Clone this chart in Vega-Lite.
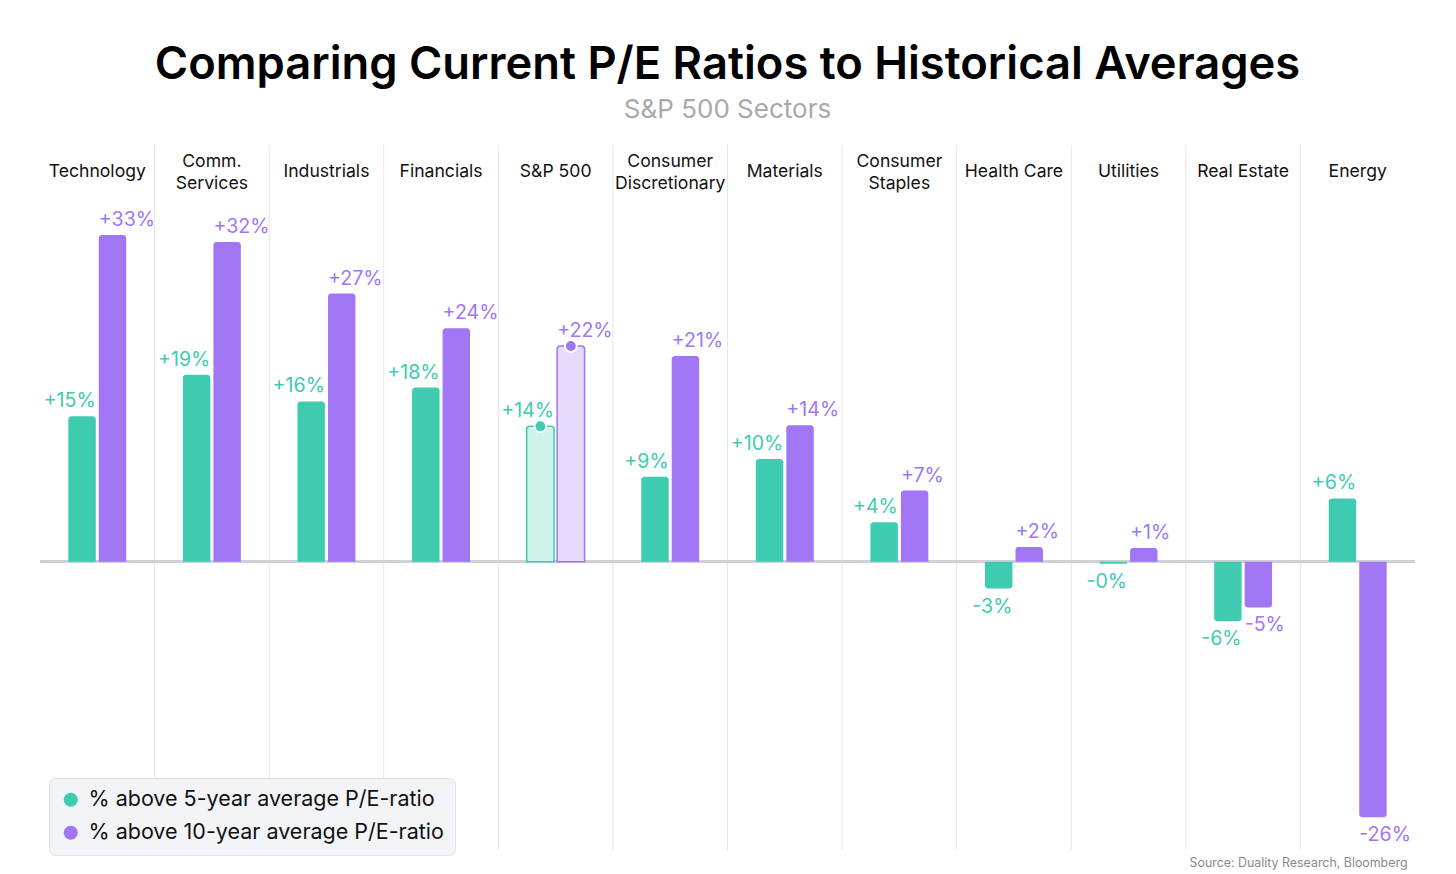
{
  "$schema": "https://vega.github.io/schema/vega-lite/v6.json",
  "width": 1375,
  "height": 705,
  "autosize": {"type": "none"},
  "padding": {"left": 40, "top": 145, "right": 41, "bottom": 24},
  "background": "white",
  "config": {"view": {"stroke": null}, "font": "Inter"},
  "title": {
    "text": "Comparing Current P/E Ratios to Historical Averages",
    "subtitle": "S&P 500 Sectors",
    "font": "Inter",
    "fontSize": 45.3,
    "fontWeight": 600,
    "color": "#000000",
    "subtitleFont": "Inter",
    "subtitleFontSize": 26,
    "subtitleColor": "#a9a9a9",
    "anchor": "middle",
    "offset": 22,
    "subtitlePadding": 8
  },
  "datasets": {
    "sectors": [
      {"sector": "Technology", "label": "Technology", "lines": 1},
      {"sector": "Comm. Services", "label": "Comm.\nServices", "lines": 2},
      {"sector": "Industrials", "label": "Industrials", "lines": 1},
      {"sector": "Financials", "label": "Financials", "lines": 1},
      {"sector": "S&P 500", "label": "S&P 500", "lines": 1},
      {"sector": "Consumer Discretionary", "label": "Consumer\nDiscretionary", "lines": 2},
      {"sector": "Materials", "label": "Materials", "lines": 1},
      {"sector": "Consumer Staples", "label": "Consumer\nStaples", "lines": 2},
      {"sector": "Health Care", "label": "Health Care", "lines": 1},
      {"sector": "Utilities", "label": "Utilities", "lines": 1},
      {"sector": "Real Estate", "label": "Real Estate", "lines": 1},
      {"sector": "Energy", "label": "Energy", "lines": 1}
    ],
    "bars": [
      {"sector": "Technology", "series": "% above 5-year average P/E-ratio", "value": 14.7, "lab": "+15%"},
      {"sector": "Technology", "series": "% above 10-year average P/E-ratio", "value": 33.0, "lab": "+33%"},
      {"sector": "Comm. Services", "series": "% above 5-year average P/E-ratio", "value": 18.9, "lab": "+19%"},
      {"sector": "Comm. Services", "series": "% above 10-year average P/E-ratio", "value": 32.3, "lab": "+32%"},
      {"sector": "Industrials", "series": "% above 5-year average P/E-ratio", "value": 16.2, "lab": "+16%"},
      {"sector": "Industrials", "series": "% above 10-year average P/E-ratio", "value": 27.1, "lab": "+27%"},
      {"sector": "Financials", "series": "% above 5-year average P/E-ratio", "value": 17.6, "lab": "+18%"},
      {"sector": "Financials", "series": "% above 10-year average P/E-ratio", "value": 23.6, "lab": "+24%"},
      {"sector": "S&P 500", "series": "% above 5-year average P/E-ratio", "value": 13.7, "lab": "+14%"},
      {"sector": "S&P 500", "series": "% above 10-year average P/E-ratio", "value": 21.8, "lab": "+22%"},
      {"sector": "Consumer Discretionary", "series": "% above 5-year average P/E-ratio", "value": 8.6, "lab": "+9%"},
      {"sector": "Consumer Discretionary", "series": "% above 10-year average P/E-ratio", "value": 20.8, "lab": "+21%"},
      {"sector": "Materials", "series": "% above 5-year average P/E-ratio", "value": 10.4, "lab": "+10%"},
      {"sector": "Materials", "series": "% above 10-year average P/E-ratio", "value": 13.8, "lab": "+14%"},
      {"sector": "Consumer Staples", "series": "% above 5-year average P/E-ratio", "value": 4.0, "lab": "+4%"},
      {"sector": "Consumer Staples", "series": "% above 10-year average P/E-ratio", "value": 7.2, "lab": "+7%"},
      {"sector": "Health Care", "series": "% above 5-year average P/E-ratio", "value": -2.7, "lab": "-3%"},
      {"sector": "Health Care", "series": "% above 10-year average P/E-ratio", "value": 1.5, "lab": "+2%"},
      {"sector": "Utilities", "series": "% above 5-year average P/E-ratio", "value": -0.2, "lab": "-0%"},
      {"sector": "Utilities", "series": "% above 10-year average P/E-ratio", "value": 1.4, "lab": "+1%"},
      {"sector": "Real Estate", "series": "% above 5-year average P/E-ratio", "value": -6.0, "lab": "-6%"},
      {"sector": "Real Estate", "series": "% above 10-year average P/E-ratio", "value": -4.6, "lab": "-5%"},
      {"sector": "Energy", "series": "% above 5-year average P/E-ratio", "value": 6.4, "lab": "+6%"},
      {"sector": "Energy", "series": "% above 10-year average P/E-ratio", "value": -25.8, "lab": "-26%"}
    ]
  },
  "layer": [
    {
      "data": {"name": "sectors"},
      "transform": [{"filter": "datum.sector !== 'Technology'"}],
      "mark": {"type": "rule", "color": "#e6e6e6", "strokeWidth": 1},
      "encoding": {
        "x": {
          "field": "sector",
          "type": "nominal",
          "sort": null,
          "bandPosition": 0,
          "scale": {
            "domain": ["Technology", "Comm. Services", "Industrials", "Financials", "S&P 500", "Consumer Discretionary", "Materials", "Consumer Staples", "Health Care", "Utilities", "Real Estate", "Energy"],
            "paddingInner": 0,
            "paddingOuter": 0
          },
          "axis": {
            "orient": "bottom",
            "labels": false,
            "ticks": false,
            "domain": false,
            "grid": false,
            "title": "Source: Duality Research, Bloomberg",
            "titleAnchor": "end",
            "titleAlign": "right",
            "titleX": 1367,
            "titleFont": "Inter",
            "titleFontSize": 12.4,
            "titleFontWeight": 400,
            "titleColor": "#8a8a8a",
            "titlePadding": 6
          }
        },
        "y": {"datum": 42.1, "type": "quantitative", "scale": {"domain": [-29.1, 42.1], "nice": false, "zero": false}, "axis": null},
        "y2": {"datum": -29.1}
      }
    },
    {
      "data": {"name": "bars"},
      "mark": {"type": "rule", "color": "#cfd0d6", "strokeWidth": 2},
      "encoding": {
        "y": {"datum": 0, "type": "quantitative", "axis": null}
      }
    },
    {
      "encoding": {
        "x": {
          "field": "sector",
          "type": "nominal",
          "sort": null,
          "scale": {
            "domain": ["Technology", "Comm. Services", "Industrials", "Financials", "S&P 500", "Consumer Discretionary", "Materials", "Consumer Staples", "Health Care", "Utilities", "Real Estate", "Energy"],
            "paddingInner": 0,
            "paddingOuter": 0
          },
          "axis": {
            "orient": "bottom",
            "labels": false,
            "ticks": false,
            "domain": false,
            "grid": false,
            "title": "Source: Duality Research, Bloomberg",
            "titleAnchor": "end",
            "titleAlign": "right",
            "titleX": 1367,
            "titleFont": "Inter",
            "titleFontSize": 12.4,
            "titleFontWeight": 400,
            "titleColor": "#8a8a8a",
            "titlePadding": 6
          }
        }
      },
      "layer": [
        {
          "data": {"name": "sectors"},
          "transform": [{"filter": "datum.lines === 1"}],
          "mark": {"type": "text", "fontSize": 17.6, "font": "Inter", "color": "#111111", "baseline": "middle", "align": "center"},
          "encoding": {
            "text": {"field": "label"},
            "y": {"datum": 39.4, "type": "quantitative", "axis": null}
          }
        },
        {
          "data": {"name": "sectors"},
          "transform": [{"filter": "datum.lines === 2"}],
          "mark": {"type": "text", "lineBreak": "\n", "fontSize": 17.6, "font": "Inter", "color": "#111111", "baseline": "middle", "align": "center", "lineHeight": 22, "dy": -10},
          "encoding": {
            "text": {"field": "label"},
            "y": {"datum": 39.4, "type": "quantitative", "axis": null}
          }
        },
        {
          "data": {"name": "bars"},
          "transform": [{"filter": "datum.value >= 0 && datum.sector !== 'S&P 500'"}],
          "mark": {"type": "bar", "cornerRadiusTopLeft": 3, "cornerRadiusTopRight": 3},
          "encoding": {
            "xOffset": {"field": "series", "type": "nominal", "scale": {"domain": ["% above 5-year average P/E-ratio", "% above 10-year average P/E-ratio"], "paddingInner": 0.1, "paddingOuter": 0.93}},
            "y": {"field": "value", "type": "quantitative", "axis": null},
            "y2": {"datum": 0},
            "color": {
              "field": "series",
              "type": "nominal",
              "scale": {"domain": ["% above 5-year average P/E-ratio", "% above 10-year average P/E-ratio"], "range": ["#3ecbb0", "#a076f5"]},
              "legend": {
                "orient": "none",
                "legendX": 9,
                "legendY": 633,
                "title": null,
                "symbolType": "circle",
                "symbolSize": 200,
                "symbolStrokeWidth": 0,
                "symbolOpacity": 1,
                "labelFont": "Inter",
                "labelFontSize": 21.5,
                "labelColor": "#111111",
                "labelOffset": 7,
                "labelLimit": 500,
                "fillColor": "#f3f4f7",
                "strokeColor": "#e1e2e8",
                "cornerRadius": 6,
                "padding": 11,
                "rowPadding": 10
              }
            }
          }
        },
        {
          "data": {"name": "bars"},
          "transform": [{"filter": "datum.value < 0 && datum.sector !== 'S&P 500'"}],
          "mark": {"type": "bar", "cornerRadiusBottomLeft": 3, "cornerRadiusBottomRight": 3},
          "encoding": {
            "xOffset": {"field": "series", "type": "nominal"},
            "y": {"field": "value", "type": "quantitative", "axis": null},
            "y2": {"datum": 0},
            "color": {"field": "series", "type": "nominal"}
          }
        },
        {
          "data": {"name": "bars"},
          "transform": [{"filter": "datum.sector === 'S&P 500'"}],
          "mark": {"type": "bar", "cornerRadiusTopLeft": 3, "cornerRadiusTopRight": 3, "strokeWidth": 1.5},
          "encoding": {
            "xOffset": {"field": "series", "type": "nominal"},
            "y": {"field": "value", "type": "quantitative", "axis": null},
            "y2": {"datum": 0},
            "fill": {"condition": {"test": "indexof(datum.series, '5-year') >= 0", "value": "#cff2eb"}, "value": "#e6dbfd"},
            "stroke": {"condition": {"test": "indexof(datum.series, '5-year') >= 0", "value": "#3ecbb0"}, "value": "#a076f5"}
          }
        },
        {
          "data": {"name": "bars"},
          "transform": [{"filter": "datum.sector === 'S&P 500'"}],
          "mark": {"type": "point", "filled": true, "size": 140, "stroke": "white", "strokeWidth": 2, "opacity": 1, "strokeOpacity": 1},
          "encoding": {
            "xOffset": {"field": "series", "type": "nominal"},
            "y": {"field": "value", "type": "quantitative", "axis": null},
            "color": {"field": "series", "type": "nominal"}
          }
        },
        {
          "data": {"name": "bars"},
          "transform": [{"filter": "datum.value >= 0 && indexof(datum.series, '5-year') >= 0"}],
          "mark": {"type": "text", "align": "right", "baseline": "bottom", "dx": 13.7, "dy": -5, "fontSize": 19.6, "font": "Inter", "color": "#3ecbb0"},
          "encoding": {
            "xOffset": {"field": "series", "type": "nominal"},
            "y": {"field": "value", "type": "quantitative", "axis": null},
            "text": {"field": "lab"}
          }
        },
        {
          "data": {"name": "bars"},
          "transform": [{"filter": "datum.value >= 0 && indexof(datum.series, '10-year') >= 0"}],
          "mark": {"type": "text", "align": "left", "baseline": "bottom", "dx": -13.7, "dy": -5, "fontSize": 19.6, "font": "Inter", "color": "#a076f5"},
          "encoding": {
            "xOffset": {"field": "series", "type": "nominal"},
            "y": {"field": "value", "type": "quantitative", "axis": null},
            "text": {"field": "lab"}
          }
        },
        {
          "data": {"name": "bars"},
          "transform": [{"filter": "datum.value < 0 && indexof(datum.series, '5-year') >= 0"}],
          "mark": {"type": "text", "align": "right", "baseline": "top", "dx": 13.7, "dy": 9, "fontSize": 19.6, "font": "Inter", "color": "#3ecbb0"},
          "encoding": {
            "xOffset": {"field": "series", "type": "nominal"},
            "y": {"field": "value", "type": "quantitative", "axis": null},
            "text": {"field": "lab"}
          }
        },
        {
          "data": {"name": "bars"},
          "transform": [{"filter": "datum.value < 0 && indexof(datum.series, '10-year') >= 0"}],
          "mark": {"type": "text", "align": "left", "baseline": "top", "dx": -13.7, "dy": 9, "fontSize": 19.6, "font": "Inter", "color": "#a076f5"},
          "encoding": {
            "xOffset": {"field": "series", "type": "nominal"},
            "y": {"field": "value", "type": "quantitative", "axis": null},
            "text": {"field": "lab"}
          }
        }
      ]
    }
  ]
}
